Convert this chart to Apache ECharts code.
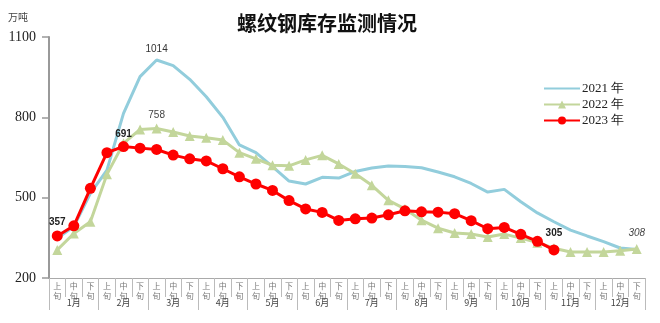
<!DOCTYPE html>
<html><head><meta charset="utf-8">
<script src="https://cdn.jsdelivr.net/npm/echarts@6/dist/echarts.min.js"></script>
<style>html,body{margin:0;padding:0;background:#fff}#c{width:660px;height:323px}</style>
</head><body><div id="c"></div>
<script>
const months = ['1月','2月','3月','4月','5月','6月','7月','8月','9月','10月','11月','12月'];
const dekads = ['上旬','中旬','下旬'];
const yTicks = [200, 500, 800, 1100];
const s2021 = [348,392,516,603,815,952,1014,993,942,877,800,697,668,616,562,551,576,573,598,611,618,616,612,596,578,553,521,531,485,443,410,379,357,336,312,306];
const s2022 = [305,366,410,587,703,755,758,745,730,724,715,668,645,621,619,641,658,626,589,546,490,458,416,386,368,364,353,364,349,332,311,297,297,297,302,308];
const s2023 = [357,395,535,668,691,685,680,659,645,637,608,578,551,527,489,458,445,415,421,424,436,451,447,446,440,414,384,389,363,337,305];
const labelled2022 = [6, 35];
const labelled2023 = [0, 4, 30];

const categories = [];
months.forEach(m => dekads.forEach(d => categories.push(m + d)));

function withLabels(arr, idx, styleFn) {
  return arr.map((v, i) => idx.includes(i) ? {value: v, label: Object.assign({show: true, position: 'top'}, styleFn(i))} : v);
}

const chart = echarts.init(document.getElementById('c'));
chart.setOption({
  animation: false,
  title: {text: '螺纹钢库存监测情况', left: 232, top: 8,
    textStyle: {fontFamily: 'Noto Sans CJK SC', fontSize: 20, fontWeight: 'bold', color: '#111'}},
  graphic: [{type: 'text', left: 8, top: 12, style: {text: '万吨', fontSize: 10, fill: '#444', fontFamily: 'Noto Sans CJK SC'}}],
  legend: {orient: 'vertical', left: 538, top: 77, itemWidth: 36, itemHeight: 10, itemGap: 3,
    textStyle: {fontFamily: 'Liberation Serif', fontSize: 13, color: '#222', padding: [0, 0, 0, -3]},
    data: [{name: '2021 年', itemStyle: {opacity: 0}}, '2022 年', '2023 年']},
  grid: {left: 49, right: 15, top: 37, bottom: 45},
  xAxis: [{
    type: 'category', data: categories, boundaryGap: true,
    axisLine: {lineStyle: {color: '#aaa', width: 1}},
    axisTick: {show: true, interval: 0, length: 19, lineStyle: {color: '#bbb'}},
    axisLabel: {interval: 0, margin: 3, fontSize: 8, lineHeight: 10, color: '#777', fontFamily: 'Noto Sans CJK SC',
      formatter: v => v.slice(-2, -1) + '\n' + v.slice(-1)}
  }, {
    type: 'category', data: months, position: 'bottom', boundaryGap: true,
    axisLine: {show: false},
    axisTick: {show: true, interval: 0, length: 32, lineStyle: {color: '#bbb'}},
    axisLabel: {interval: 0, margin: 20, fontSize: 9, color: '#444', fontFamily: 'Noto Sans CJK SC'}
  }],
  yAxis: {
    type: 'value', min: yTicks[0], max: yTicks[yTicks.length - 1], interval: 300,
    splitLine: {show: false},
    axisLine: {show: true, lineStyle: {color: '#999', width: 2}},
    axisTick: {show: true, length: 7, lineStyle: {color: '#999', width: 1.5}},
    axisLabel: {fontFamily: 'Liberation Serif', fontSize: 14, color: '#222', margin: 13, formatter: v => String(v)}
  },
  series: [{
    name: '2021 年', type: 'line', data: s2021,
    symbol: 'none', lineStyle: {color: '#92CDDC', width: 3}, itemStyle: {color: '#92CDDC'}, z: 2,
    markPoint: {symbol: 'circle', symbolSize: 1, itemStyle: {color: 'rgba(0,0,0,0)'},
      label: {show: true, position: 'top', distance: 5, formatter: p => p.value, fontSize: 10, color: '#333', fontFamily: 'Liberation Sans'},
      data: [{type: 'max'}]}
  }, {
    name: '2022 年', type: 'line',
    data: withLabels(s2022, labelled2022, i => ({fontSize: 10, color: '#444', fontFamily: 'Liberation Sans', fontStyle: i === 35 ? 'italic' : 'normal', distance: i === 35 ? 6 : 3})),
    symbol: 'triangle', symbolSize: 10, showAllSymbol: true, lineStyle: {color: '#C3D69B', width: 3}, itemStyle: {color: '#C3D69B'}, z: 3
  }, {
    name: '2023 年', type: 'line',
    data: withLabels(s2023, labelled2023, i => ({fontSize: 10, fontWeight: 'bold', color: '#222', fontFamily: 'Liberation Sans', distance: i === 0 ? 3 : (i === 4 ? 2 : 6)})),
    symbol: 'circle', symbolSize: 11, showAllSymbol: true, lineStyle: {color: '#FF0000', width: 3}, itemStyle: {color: '#FF0000'}, z: 4
  }]
});
</script></body></html>
